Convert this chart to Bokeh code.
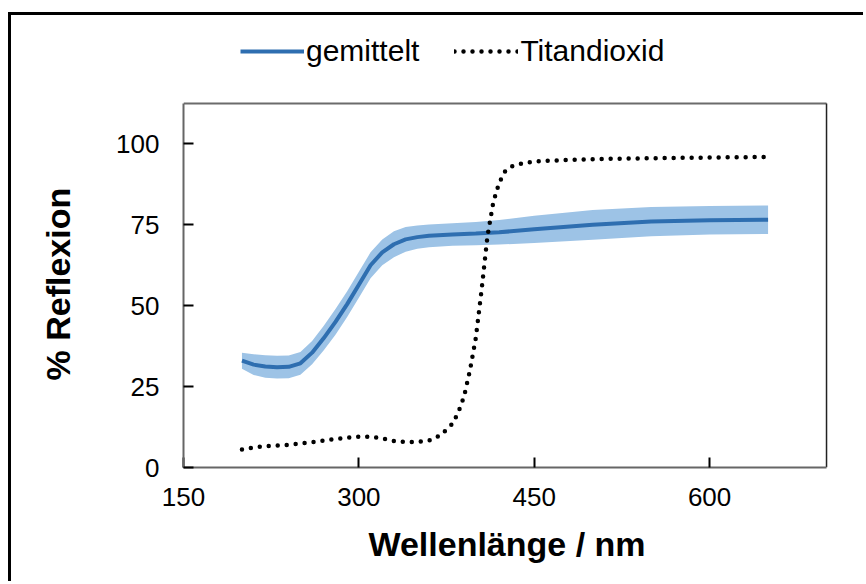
from bokeh.plotting import figure
from bokeh.models import (Range1d, FixedTicker, Legend, LegendItem, ColumnDataSource,
                          Title, LinearAxis)
from bokeh.embed import file_html
from bokeh.resources import INLINE

# ---- data ----
avg_wl = [200, 210, 220, 230, 240, 250, 260, 270, 280, 290, 300, 310, 320, 330,
          340, 350, 360, 380, 400, 420, 450, 500, 550, 600, 650]
avg_val = [33.0, 31.8, 31.2, 31.0, 31.1, 32.2, 35.5, 40.0, 45.0, 50.5, 56.5, 62.5,
           66.5, 69.0, 70.5, 71.2, 71.6, 72.0, 72.3, 72.7, 73.6, 75.0, 76.0, 76.4, 76.6]
avg_err = [2.5, 3.2, 3.5, 3.5, 3.5, 3.5, 3.6, 3.8, 4.0, 4.0, 4.0, 4.0, 4.0, 4.0,
           3.8, 3.6, 3.5, 3.5, 3.6, 3.8, 4.2, 4.6, 4.5, 4.4, 4.4]

tio2_wl = [200, 210, 220, 230, 240, 250, 260, 270, 280, 290, 300, 310, 320, 330,
           340, 350, 360, 370, 380, 385, 390, 395, 400, 405, 410, 415, 420, 425,
           430, 440, 450, 475, 500, 550, 600, 650]
tio2_val = [5.6, 6.2, 6.6, 6.8, 7.0, 7.4, 7.8, 8.3, 8.8, 9.2, 9.5, 9.5, 9.0, 8.2,
            7.9, 7.9, 8.3, 10.0, 13.5, 17.0, 22.0, 30.0, 40.0, 55.0, 71.5, 82.0,
            88.0, 91.5, 93.0, 94.0, 94.6, 95.0, 95.3, 95.6, 95.8, 96.0]

x_ticks = [150, 300, 450, 600]
y_ticks = [0, 25, 50, 75, 100]
x_min, x_max = 150, 700
y_min, y_max = 0, 112.5

FONT = "Liberation Sans"

avg_src = ColumnDataSource(dict(
    x=avg_wl, y=avg_val,
    lo=[v - e for v, e in zip(avg_val, avg_err)],
    hi=[v + e for v, e in zip(avg_val, avg_err)],
))
tio2_src = ColumnDataSource(dict(x=tio2_wl, y=tio2_val))

# frame extends above the plot box so the legend can live inside it
p = figure(width=855, height=569,
           x_range=Range1d(150, 703.4), y_range=Range1d(0, 138.15),
           output_backend="svg", toolbar_location=None,
           min_border_left=171, min_border_right=36,
           min_border_top=5, min_border_bottom=117)
p.margin = (12, 0, 0, 8)
p.styles = {"border-top": "3px solid black", "border-left": "3px solid black"}

p.xgrid.visible = False
p.ygrid.visible = False
p.outline_line_color = None

# plot box top and right edges
p.line(x=[x_min, x_max], y=[y_max, y_max], line_color="#6b6b6b", line_width=2)
p.line(x=[x_max, x_max], y=[y_min, y_max], line_color="#222222", line_width=1.5)

p.varea(x="x", y1="lo", y2="hi", source=avg_src, fill_color="#9DC3E6", fill_alpha=1.0)
r_avg = p.line(x="x", y="y", source=avg_src, line_color="#2E6EB0", line_width=4)
r_tio = p.line(x="x", y="y", source=tio2_src, line_color="black", line_width=4.5,
               line_dash="0 9", line_cap="round")

for ax in (p.xaxis[0], p.yaxis[0]):
    ax.axis_line_color = "#666666"
    ax.axis_line_width = 2
    ax.major_tick_in = 10
    ax.major_tick_out = 0
    ax.major_tick_line_color = "black"
    ax.major_tick_line_width = 2
    ax.minor_tick_line_color = None
    ax.major_label_text_font = FONT
    ax.major_label_text_font_size = "26px"
    ax.major_label_text_color = "black"
    ax.axis_label_text_font = FONT
    ax.axis_label_text_font_size = "34px"
    ax.axis_label_text_font_style = "bold"
    ax.axis_label_text_color = "black"

p.xaxis[0].bounds = (x_min, x_max)
p.yaxis[0].bounds = (y_min, y_max)
p.xaxis[0].ticker = FixedTicker(ticks=x_ticks)
p.yaxis[0].ticker = FixedTicker(ticks=y_ticks)
p.xaxis[0].axis_label = "Wellenlänge / nm"
p.xaxis[0].major_label_standoff = 20
p.yaxis[0].major_label_standoff = 24
p.xaxis[0].axis_label_standoff = 16

# invisible spacer axis: pushes the y title a little further left
spacer = LinearAxis(ticker=FixedTicker(ticks=[50]), axis_line_color=None,
                    major_tick_in=0, major_tick_out=12, major_tick_line_color=None,
                    minor_tick_line_color=None, major_label_standoff=0,
                    major_label_overrides={50: ""})
p.add_layout(spacer, "left")

# y-axis title placed along the plot box (not along the taller frame)
ytitle = Title(text="% Reflexion", align="left", offset=87, standoff=50,
               text_font=FONT, text_font_size="34px", text_font_style="bold",
               text_color="black")
p.add_layout(ytitle, "left")

legend = Legend(items=[LegendItem(label="gemittelt", renderers=[r_avg]),
                       LegendItem(label="Titandioxid", renderers=[r_tio])],
                orientation="horizontal", location=(57, 399),
                border_line_color=None, background_fill_alpha=0,
                padding=0, margin=0, spacing=35, glyph_width=64, glyph_height=20,
                label_standoff=2, label_height=20,
                label_text_font=FONT, label_text_font_size="30px",
                label_text_color="black")
p.add_layout(legend)

open("out.html", "w").write(file_html(p, INLINE))
